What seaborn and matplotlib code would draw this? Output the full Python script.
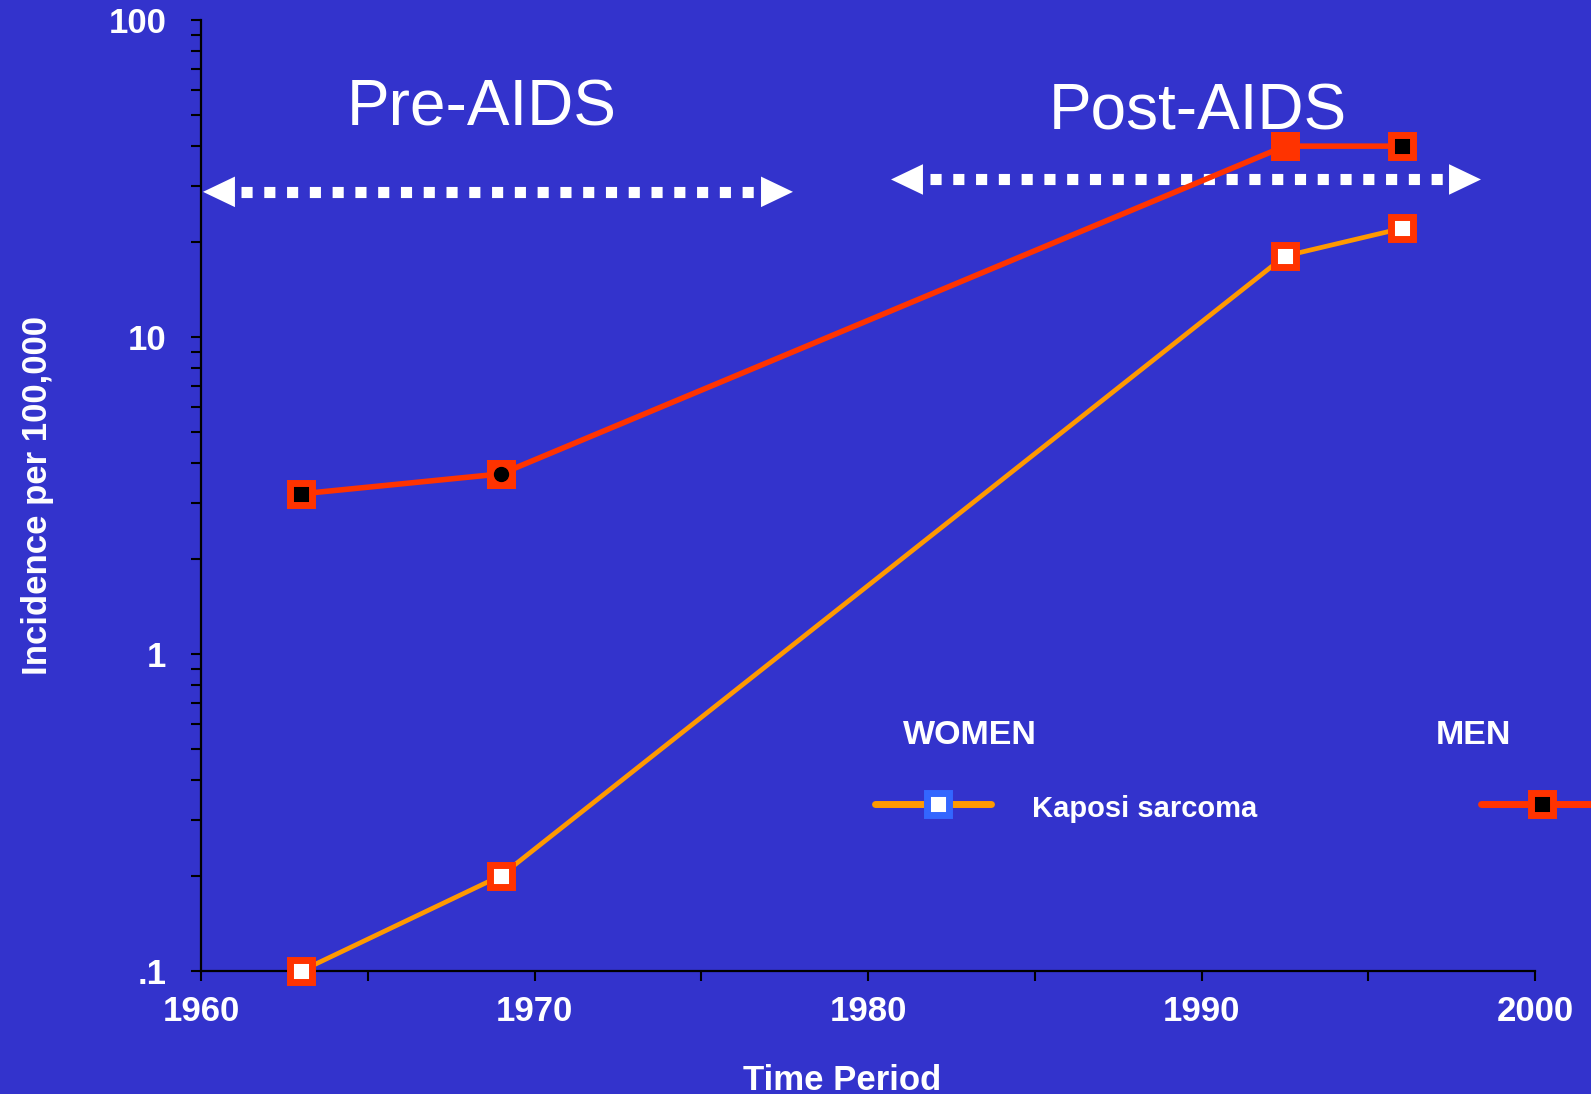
import numpy as np
import matplotlib
matplotlib.use("Agg")
import matplotlib.pyplot as plt
import matplotlib.ticker as mticker
from matplotlib.lines import Line2D
import seaborn as sns

# data (incidence per 100,000, log scale)
years_women = [1963.0, 1969.0, 1992.5, 1996.0]
kaposi_women = [0.1, 0.2, 18.0, 22.0]
years_men = [1963.0, 1969.0, 1992.5, 1996.0]
kaposi_men = [3.2, 3.7, 40.0, 40.0]
ytick_vals = [0.1, 1, 10, 100]
ytick_labels = [".1", "1", "10", "100"]
xtick_vals = [1960, 1970, 1980, 1990, 2000]

BG = "#3333CC"
ORANGE = "#FF9900"
RED = "#FF3300"
MS = 16.5
MEW = 5

sns.set_style("white")
plt.rcParams["font.family"] = ["Liberation Sans", "DejaVu Sans"]

W, H = 1591, 1094
fig = plt.figure(figsize=(W / 100, H / 100), dpi=100)
fig.patch.set_facecolor(BG)
ax = fig.add_axes([201 / W, 1 - 971 / H, (1535 - 201) / W, (971 - 20) / H])
ax.set_facecolor(BG)
ax.set_yscale("log")

sns.lineplot(x=years_women, y=kaposi_women, ax=ax, color=ORANGE, linewidth=3.4,
             marker="s", markersize=MS, markeredgewidth=MEW, clip_on=False,
             markeredgecolor=RED, markerfacecolor="white", zorder=3)
sns.lineplot(x=years_men, y=kaposi_men, ax=ax, color=RED, linewidth=4,
             marker="s", markersize=MS, markeredgewidth=MEW, clip_on=False,
             markeredgecolor=RED, markerfacecolor="black", zorder=3)
# odd markers on the men's series
for i in (1, 2):
    ax.plot(years_men[i], kaposi_men[i], marker="s", markersize=MS, markeredgewidth=MEW,
            markeredgecolor=RED, markerfacecolor=RED, linestyle="none", zorder=4)
ax.plot(years_men[1], kaposi_men[1], marker="o", markersize=10, color="black",
        linestyle="none", zorder=5)

ax.set_xlim(1960, 2000)
ax.set_ylim(0.1, 100)
ax.set_xticks(xtick_vals)
ax.xaxis.set_minor_locator(mticker.MultipleLocator(5))
ax.set_yticks(ytick_vals)
ax.set_yticklabels(ytick_labels)
ax.yaxis.set_minor_locator(mticker.LogLocator(base=10, subs=np.arange(2, 10)))
ax.yaxis.set_minor_formatter(mticker.NullFormatter())

for s in ["top", "right"]:
    ax.spines[s].set_visible(False)
for s in ["left", "bottom"]:
    ax.spines[s].set_color("black")
    ax.spines[s].set_linewidth(1.6)
    ax.spines[s].set_zorder(2)

ax.tick_params(which="both", direction="out", length=7, width=1.5, color="black",
               labelcolor="white", labelsize=25, left=True, bottom=True)
ax.tick_params(axis="x", which="major", pad=10)
ax.tick_params(axis="y", which="major", pad=18)
for lab in ax.get_xticklabels() + ax.get_yticklabels():
    lab.set_fontweight("bold")

ax.set_xlabel("Time Period", color="white", fontsize=25, fontweight="bold")
ax.set_ylabel("Incidence per 100,000", color="white", fontsize=25, fontweight="bold")
ax.xaxis.set_label_coords((842 - 201) / 1334, (971 - 1064) / 951)
ax.yaxis.set_label_coords((54 - 201) / 1334, 0.5)

# period arrows
for (tip_l, tip_r, base_l, base_r, yv) in [(1960.06, 1977.75, 1961.2, 1976.85, 28.7),
                                          (1980.69, 1998.38, 1981.85, 1997.5, 31.4)]:
    ax.plot([base_l, base_r], [yv, yv], color="white", linewidth=8,
            linestyle=(0, (1, 1.05)), dash_capstyle="butt", clip_on=False, zorder=2)
    for tip, tail in [(tip_l, tip_l + 1.0), (tip_r, tip_r - 1.0)]:
        ax.annotate("", xy=(tip, yv), xytext=(tail, yv), annotation_clip=False,
                    arrowprops=dict(arrowstyle="-|>,head_length=2.3,head_width=1.1",
                                    color="white", lw=0, mutation_scale=10,
                                    shrinkA=0, shrinkB=0), zorder=2)

fig.text(482 / W, 1 - 126 / H, "Pre-AIDS", color="white", fontsize=46,
         ha="center", va="baseline")
fig.text(1198 / W, 1 - 130 / H, "Post-AIDS", color="white", fontsize=46,
         ha="center", va="baseline")

# legend drawn by hand
fig.text(970 / W, 1 - 744 / H, "WOMEN", color="white", fontsize=24.5,
         fontweight="bold", ha="center", va="baseline")
fig.text(1473 / W, 1 - 744 / H, "MEN", color="white", fontsize=24.5,
         fontweight="bold", ha="center", va="baseline")
fig.text(1032 / W, 1 - 817 / H, "Kaposi sarcoma", color="white", fontsize=21,
         fontweight="bold", ha="left", va="baseline")
ly = 1 - 804 / H
fig.add_artist(Line2D([875 / W, 991 / W], [ly, ly], color=ORANGE, linewidth=5,
                      transform=fig.transFigure))
fig.add_artist(Line2D([938 / W], [ly], marker="s", markersize=MS, markeredgewidth=MEW,
                      markeredgecolor="#3366FF", markerfacecolor="white",
                      linestyle="none", transform=fig.transFigure))
fig.add_artist(Line2D([1481 / W, 1.0], [ly, ly], color=RED, linewidth=5,
                      transform=fig.transFigure))
fig.add_artist(Line2D([1542 / W], [ly], marker="s", markersize=MS, markeredgewidth=MEW,
                      markeredgecolor=RED, markerfacecolor="black",
                      linestyle="none", transform=fig.transFigure))

fig.savefig("out.png", dpi=100, facecolor=BG)
